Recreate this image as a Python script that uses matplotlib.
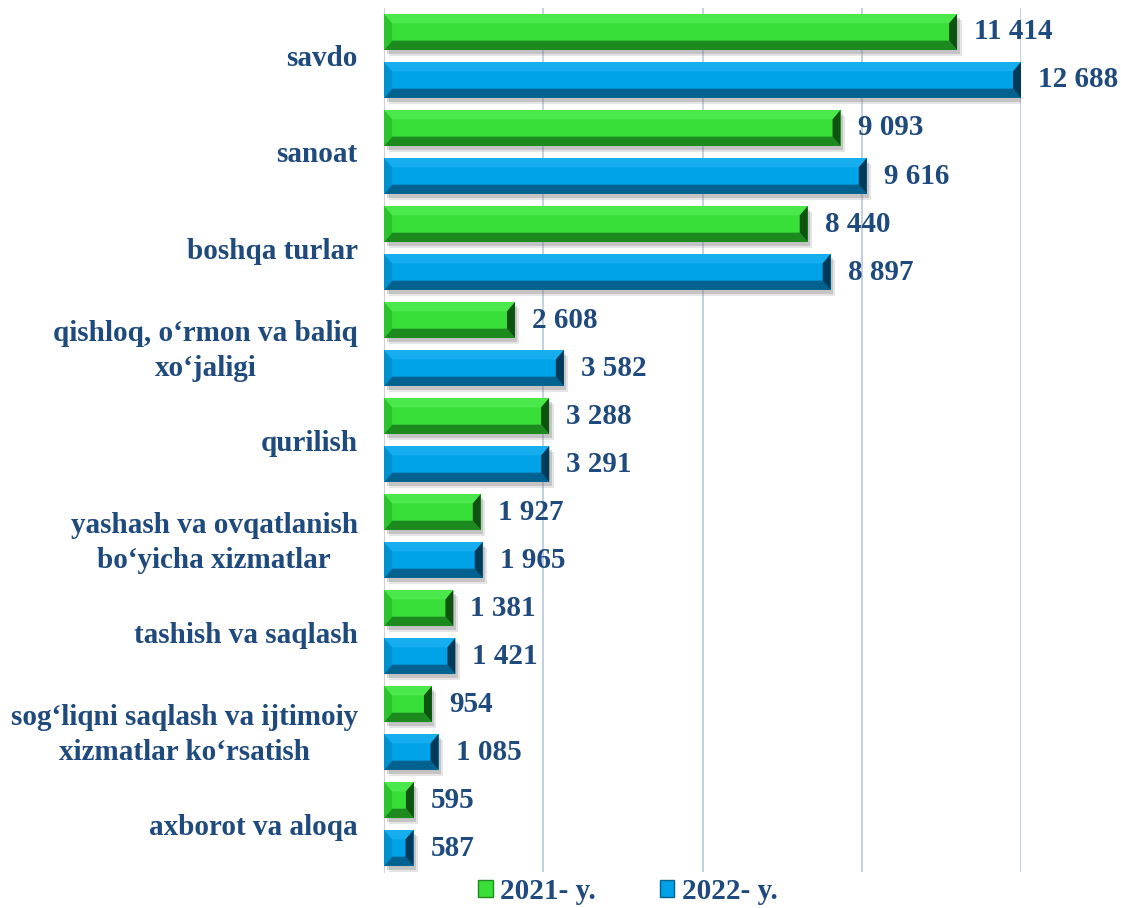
import matplotlib
matplotlib.use("Agg")
import matplotlib.pyplot as plt
from matplotlib.patches import Patch, Polygon
import numpy as np

categories = [
    "savdo",
    "sanoat",
    "boshqa turlar",
    "qishloq, o‘rmon va baliq\nxo‘jaligi",
    "qurilish",
    "yashash va ovqatlanish\nbo‘yicha xizmatlar",
    "tashish va saqlash",
    "sog‘liqni saqlash va ijtimoiy\nxizmatlar ko‘rsatish",
    "axborot va aloqa",
]
v2021 = [11414, 9093, 8440, 2608, 3288, 1927, 1381, 954, 595]
v2022 = [12688, 9616, 8897, 3582, 3291, 1965, 1421, 1085, 587]
series_names = ["2021- y.", "2022- y."]

txt_color = "#1F4A7D"
plt.rcParams["font.family"] = ["Liberation Serif", "DejaVu Serif"]
plt.rcParams["font.weight"] = "bold"

fig = plt.figure(figsize=(11.21, 9.08), dpi=100)
ax = fig.add_axes([0.3426, 0.0396, 0.9108 - 0.3426, 0.9516])

xmax = 12688
ax.set_xlim(0, xmax)
ax.set_ylim(len(categories) - 0.5, -0.5)

y = np.arange(len(categories))
h = 0.375
px = xmax / (1021 - 384)  # data units per pixel horizontally
styles = [
    # values, offset, main, bottom, right, top, left
    (v2021, -0.25, "#38DF38", "#1C8A1E", "#0E5410", "#4BE84B", "#2CC42E"),
    (v2022, 0.25, "#00A2E8", "#00628F", "#003A58", "#16AEEE", "#0090D0"),
]


def bevel(x0, x1, yt, yb, bx, by, col_top, col_bot, col_l, col_r):
    # yt is top (smaller y), yb bottom (axis inverted)
    pts = {
        "top": [(x0, yt), (x1, yt), (x1 - bx, yt + by), (x0 + bx, yt + by)],
        "bot": [(x0, yb), (x1, yb), (x1 - bx, yb - by), (x0 + bx, yb - by)],
        "l": [(x0, yt), (x0 + bx, yt + by), (x0 + bx, yb - by), (x0, yb)],
        "r": [(x1, yt), (x1 - bx, yt + by), (x1 - bx, yb - by), (x1, yb)],
    }
    for k, c in [("top", col_top), ("bot", col_bot), ("l", col_l), ("r", col_r)]:
        ax.add_patch(Polygon(pts[k], closed=True, facecolor=c, edgecolor="none", zorder=4))


for vals, off, main, cbot, cr, ctop, cl in styles:
    pos = y + off
    # soft shadow
    ax.barh(pos + 0.06, vals, height=h, left=90, color="#9A9A9A", alpha=0.25, zorder=2)
    ax.barh(pos + 0.04, vals, height=h, left=50, color="#7A7A7A", alpha=0.3, zorder=2)
    bars = ax.barh(pos, vals, height=h, color=main, edgecolor="none", zorder=3)
    for r in bars.patches:
        x0, w = r.get_x(), r.get_width()
        yt, yb = r.get_y(), r.get_y() + r.get_height()
        bx = min(8 * px, w / 2)
        by = h * 0.26
        bevel(x0, x0 + w, yt, yb, bx, by, ctop, cbot, cl, cr)
    for p, v in zip(pos, vals):
        ax.text(v + 17 * px, p, f"{v:,}".replace(",", " "), va="center", ha="left",
                fontsize=21, fontweight="bold", color=txt_color, clip_on=False)

ax.set_xticks([xmax / 4 * k for k in range(1, 5)])
ax.grid(axis="x", color="#B8C8DC", linewidth=1.2, zorder=0)
ax.set_axisbelow(True)
ax.tick_params(axis="x", length=0, labelbottom=False)
ax.tick_params(axis="y", length=0, pad=19)
ax.set_yticks(y)
ax.set_yticklabels(categories, fontsize=21, fontweight="bold", color=txt_color,
                   multialignment="center", linespacing=1.4)
for s in ["top", "right", "bottom"]:
    ax.spines[s].set_visible(False)
ax.spines["left"].set_color("#D0D0D0")

handles = [Patch(facecolor="#38DF38", edgecolor="#1C8A1E"),
           Patch(facecolor="#00A2E8", edgecolor="#00628F")]
leg = fig.legend(handles, series_names, loc="center", bbox_to_anchor=(0.56, 0.018),
                 ncol=2, frameon=False, fontsize=21, handlelength=0.5, handleheight=0.5,
                 handletextpad=0.25, columnspacing=2.2)
for t in leg.get_texts():
    t.set_color(txt_color)
    t.set_fontweight("bold")

fig.savefig("out.png", dpi=100)
